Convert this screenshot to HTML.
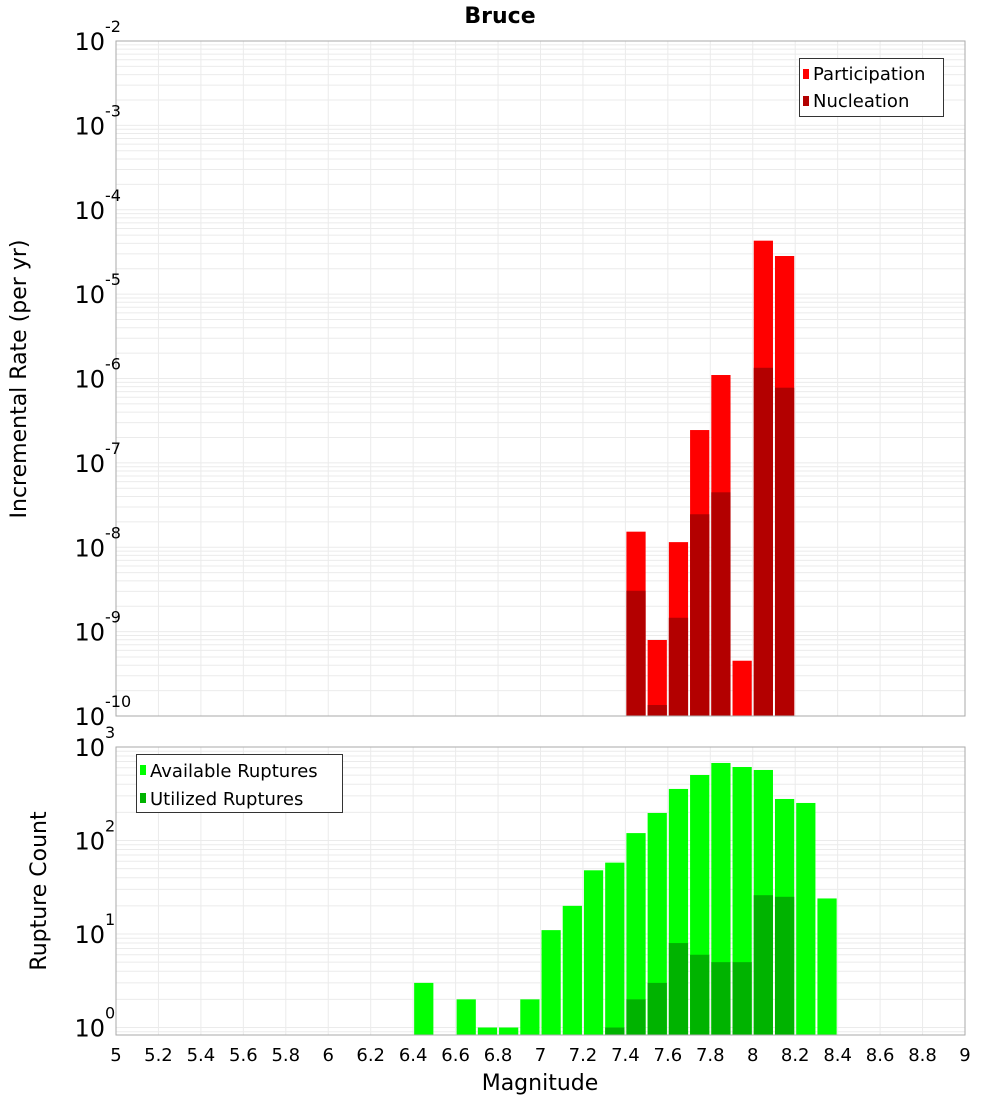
<!DOCTYPE html>
<html><head><meta charset="utf-8"><style>
body{margin:0;background:#fff;}
svg{display:block;font-family:"DejaVu Sans","Liberation Sans",sans-serif;}
</style></head><body>
<svg id="chart" width="1000" height="1100" viewBox="0 0 1000 1100"></svg>
<script>
const magBins=[7.45,7.55,7.65,7.75,7.85,7.95,8.05,8.15];
const participation=[1.53e-8,7.96e-10,1.15e-8,2.45e-7,1.10e-6,4.52e-10,4.30e-5,2.83e-5];
const nucleation=[3.05e-9,1.35e-10,1.46e-9,2.46e-8,4.48e-8,0,1.34e-6,7.78e-7];
const countBins=[6.45,6.65,6.75,6.85,6.95,7.05,7.15,7.25,7.35,7.45,7.55,7.65,7.75,7.85,7.95,8.05,8.15,8.25,8.35];
const available=[3,2,1,1,2,11,20,48,58,120,197,356,502,675,611,568,278,252,24];
const utilized=[0,0,0,0,0,0,0,0,1,2,3,8,6,5,5,26,25,0,0];
const xTicks=[5,5.2,5.4,5.6,5.8,6,6.2,6.4,6.6,6.8,7,7.2,7.4,7.6,7.8,8,8.2,8.4,8.6,8.8,9];
const topExps=[-2,-3,-4,-5,-6,-7,-8,-9,-10];
const botExps=[3,2,1,0];

const NS="http://www.w3.org/2000/svg";
const svg=document.getElementById('chart');
function mk(tag,attrs,parent){const e=document.createElementNS(NS,tag);for(const k in attrs)e.setAttribute(k,attrs[k]);(parent||svg).appendChild(e);return e;}
const X0=116,X1=965;
const x=m=>X0+(m-5)/(9-5)*(X1-X0);
const T0=41,T1=716;
const yTop=v=>T0+(-2-Math.log10(v))*(T1-T0)/8;
const B0=747,BD=93.5,B1=1035;
const yBot=v=>B0+(3-Math.log10(v))*BD;

function grid(top,bottom,yf,emin,emax,name){
  const g=mk('g',{});
  
  
  for(let e=emin;e<emax;e++){for(let k=1;k<10;k++){const yy=yf(k*Math.pow(10,e));if(yy<top-0.5||yy>bottom+0.5)continue;mk('line',{x1:X0,x2:X1,y1:yy,y2:yy,stroke:'#ebebeb','stroke-width':1},g);}}
  const yy=yf(Math.pow(10,emax));mk('line',{x1:X0,x2:X1,y1:yy,y2:yy,stroke:'#ebebeb'},g);
  xTicks.forEach(t=>{mk('line',{x1:x(t),x2:x(t),y1:top,y2:bottom,stroke:'#ebebeb'},g);});
}
grid(T0,T1,yTop,-10,-2,'top-grid');
grid(B0,B1,yBot,-1,3,'bottom-grid');

// top bars
magBins.forEach((m,i)=>{
  const xl=x(m-0.05)+1,w=x(m+0.05)-x(m-0.05)-2;
  const p=participation[i];
  if(p>0){const yy=yTop(p);const r=mk('rect',{x:xl,y:yy,width:w,height:T1-yy,fill:'#ff0000'});
    
    }
  const n=nucleation[i];
  if(n>0){const yy=yTop(n);const r=mk('rect',{x:xl,y:yy,width:w,height:T1-yy,fill:'#b30000'});
    
    }
});
countBins.forEach((m,i)=>{
  const xl=x(m-0.05)+1,w=x(m+0.05)-x(m-0.05)-2;
  const a=available[i];
  if(a>0){const yy=yBot(a);const r=mk('rect',{x:xl,y:yy,width:w,height:B1-yy,fill:'#00ff00'});
    
    }
  const u=utilized[i];
  if(u>0){const yy=yBot(u);const r=mk('rect',{x:xl,y:yy,width:w,height:B1-yy,fill:'#00b300'});
    
    }
});
// borders
mk('rect',{x:X0,y:T0,width:X1-X0,height:T1-T0,fill:'none',stroke:'#aaaaaa'});
mk('rect',{x:X0,y:B0,width:X1-X0,height:B1-B0,fill:'none',stroke:'#aaaaaa'});

function ylabel(yy,e,name){
  const t=mk('text',{x:105,y:yy+9,'text-anchor':'end','font-size':24,fill:'#000'});
  
  
  t.textContent='10';
  const s=mk('text',{x:105,y:yy-9,'text-anchor':'start','font-size':16,fill:'#000'});
  s.textContent=String(e).replace('-','-');
}
topExps.forEach(e=>ylabel(yTop(Math.pow(10,e)),e,'top-y-tick-label'));
botExps.forEach(e=>ylabel(yBot(Math.pow(10,e)),e,'bottom-y-tick-label'));
xTicks.forEach(t=>{const tx=mk('text',{x:x(t),y:1061,'text-anchor':'middle','font-size':18,fill:'#000'});
  
  
  tx.textContent=String(t);});
</script>
<svg width="0" height="0"></svg>
<div style="position:absolute;left:0;top:0;width:1000px;height:1100px;pointer-events:none;">
<svg width="1000" height="1100" style="position:absolute;left:0;top:0;font-family:'DejaVu Sans','Liberation Sans',sans-serif;">
<text x="500" y="23" text-anchor="middle" font-size="22" font-weight="bold">Bruce</text>
<text transform="translate(26,379) rotate(-90)" text-anchor="middle" font-size="22">Incremental Rate (per yr)</text>
<text transform="translate(46,891) rotate(-90)" text-anchor="middle" font-size="22">Rupture Count</text>
<text x="540" y="1090" text-anchor="middle" font-size="22">Magnitude</text>
<g>
<rect x="799.5" y="58.5" width="144" height="58" fill="#fff" stroke="#333"/>
<rect x="803" y="69" width="6" height="10" fill="#ff0000"/>
<text x="813" y="80" font-size="18">Participation</text>
<rect x="803" y="96" width="6" height="10" fill="#b30000"/>
<text x="813" y="107" font-size="18">Nucleation</text>
</g>
<g>
<rect x="136.5" y="754.5" width="206" height="58" fill="#fff" stroke="#333"/>
<rect x="140" y="765" width="6" height="10" fill="#00ff00"/>
<text x="150" y="777" font-size="18">Available Ruptures</text>
<rect x="140" y="793" width="6" height="10" fill="#00b300"/>
<text x="150" y="805" font-size="18">Utilized Ruptures</text>
</g>
</svg>
</div>
</body></html>
